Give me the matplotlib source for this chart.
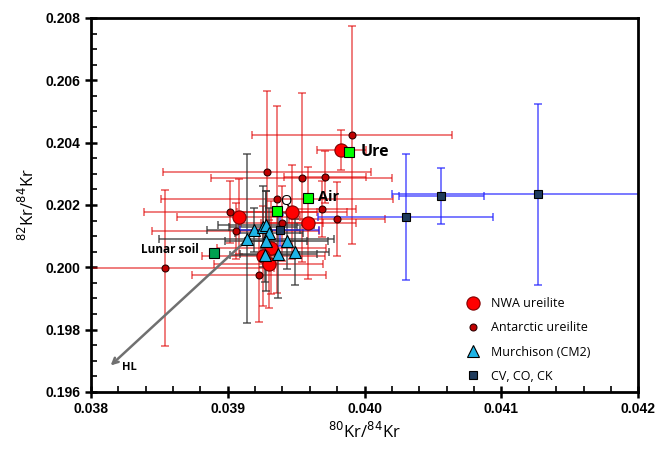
import matplotlib.pyplot as plt
from matplotlib.ticker import MultipleLocator, FormatStrFormatter

# NWA ureilites (80Kr/84Kr, 82Kr/84Kr, errors)
nwa_x = [0.03983, 0.03908, 0.03947, 0.03959, 0.03932, 0.03926, 0.03930]
nwa_y = [0.20376, 0.20162, 0.20177, 0.20143, 0.20063, 0.20036, 0.20011]
nwa_xerr = [0.00018, 0.00045, 0.00040, 0.00035, 0.00040, 0.00045, 0.00040]
nwa_yerr = [0.00064, 0.00120, 0.00150, 0.00180, 0.00150, 0.00160, 0.00140]

# Antarctic ureilites
ant_x = [0.03991, 0.03929, 0.03954, 0.03971, 0.03936, 0.03902, 0.03969,
         0.03980, 0.03940, 0.03906, 0.03854, 0.03923]
ant_y = [0.20425, 0.20305, 0.20288, 0.20290, 0.20219, 0.20177, 0.20187,
         0.20155, 0.20141, 0.20117, 0.19997, 0.19974]
ant_xerr = [0.00073, 0.00076, 0.00066, 0.00030, 0.00085, 0.00063, 0.00025,
            0.00035, 0.00030, 0.00061, 0.00080, 0.00049]
ant_yerr = [0.00350, 0.00260, 0.00270, 0.00083, 0.00300, 0.00100, 0.00090,
            0.00120, 0.00120, 0.00090, 0.00250, 0.00150]

# Murchison (CM2)
mur_x = [0.03919, 0.03926, 0.03928, 0.03930, 0.03914, 0.03928, 0.03943,
         0.03927, 0.03937, 0.03949]
mur_y = [0.20119, 0.20130, 0.20136, 0.20109, 0.20092, 0.20084, 0.20084,
         0.20041, 0.20042, 0.20049]
mur_xerr = [0.00034, 0.00025, 0.00035, 0.00025, 0.00064, 0.00030, 0.00030,
            0.00025, 0.00028, 0.00025]
mur_yerr = [0.00070, 0.00130, 0.00110, 0.00080, 0.00270, 0.00160, 0.00090,
            0.00088, 0.00140, 0.00106]

# CV, CO, CK
cv_x = [0.04127, 0.04056, 0.04030, 0.03938]
cv_y = [0.20234, 0.20228, 0.20161, 0.20119]
cv_xerr = [0.00107, 0.00031, 0.00064, 0.00029]
cv_yerr = [0.00290, 0.00090, 0.00203, 0.00050]

# reference compositions
ref_names = ['Ure', 'Air', 'Q', 'Lunar soil']
ref_x = [0.03989, 0.03959, 0.03936, 0.03890]
ref_y = [0.20370, 0.20221, 0.20181, 0.20045]
ref_colors = ['#00FF00', '#00FF00', '#00FF00', '#00A050']

fig, ax = plt.subplots(figsize=(6.58, 4.49), dpi=100)
fig.subplots_adjust(left=0.138, right=0.970, top=0.960, bottom=0.127)

eb = dict(fmt='none', capsize=3, elinewidth=1.2, capthick=1.2)
ax.errorbar(ant_x, ant_y, xerr=ant_xerr, yerr=ant_yerr, ecolor='#E00000', alpha=0.6, zorder=2, **eb)
ax.errorbar(nwa_x, nwa_y, xerr=nwa_xerr, yerr=nwa_yerr, ecolor='#E00000', alpha=0.6, zorder=2, **eb)
ax.errorbar(mur_x, mur_y, xerr=mur_xerr, yerr=mur_yerr, ecolor='#333333', alpha=0.75, zorder=2, **eb)
ax.errorbar(cv_x, cv_y, xerr=cv_xerr, yerr=cv_yerr, ecolor='#2020FF', alpha=0.7, zorder=2, **eb)

# HL arrow
ax.annotate('', xy=(0.03813, 0.19679), xytext=(0.03914, 0.20088),
            arrowprops=dict(arrowstyle='->', color='#707070', lw=1.8), zorder=3)
ax.text(0.03823, 0.19677, 'HL', fontsize=8, fontweight='bold', va='center', family='Open Sans')

ax.plot(nwa_x, nwa_y, 'o', ms=9.5, mfc='#FF0000', mec='#800000', mew=0.8, ls='none',
        zorder=4, label='NWA ureilite')
ax.plot(ant_x, ant_y, 'o', ms=5, mfc='#C00000', mec='#300000', mew=0.8, ls='none',
        zorder=5, label='Antarctic ureilite')
ax.plot(mur_x, mur_y, '^', ms=8, mfc='#1EB4E6', mec='black', mew=0.8, ls='none',
        zorder=5, label='Murchison (CM2)')
ax.plot(cv_x, cv_y, 's', ms=5.5, mfc='#1F3B5C', mec='black', mew=0.8, ls='none',
        zorder=5, label='CV, CO, CK')

for name, x, y, c in zip(ref_names, ref_x, ref_y, ref_colors):
    ax.plot(x, y, 's', ms=7, mfc=c, mec='black', mew=0.8, zorder=6)

ax.text(0.03997, 0.20370, 'Ure', fontsize=11.5, fontweight='bold', va='center', family='Open Sans')
ax.text(0.03966, 0.20226, 'Air', fontsize=10.5, fontweight='bold', va='center', family='Open Sans')
ax.text(0.03938, 0.20213, 'Q', fontsize=10.5, va='center', family='Open Sans')
ax.text(0.03837, 0.20056, 'Lunar soil', fontsize=8.5, fontweight='bold', va='center', family='Open Sans')

ax.set_xlim(0.038, 0.042)
ax.set_ylim(0.196, 0.208)
ax.xaxis.set_major_locator(MultipleLocator(0.001))
ax.xaxis.set_minor_locator(MultipleLocator(0.0002))
ax.yaxis.set_major_locator(MultipleLocator(0.002))
ax.yaxis.set_minor_locator(MultipleLocator(0.0005))
ax.xaxis.set_major_formatter(FormatStrFormatter('%.3f'))
ax.yaxis.set_major_formatter(FormatStrFormatter('%.3f'))
ax.tick_params(which='major', direction='inout', length=8, width=1.8, labelsize=10)
ax.tick_params(which='minor', direction='in', length=4, width=1.2)
for lab in ax.get_xticklabels() + ax.get_yticklabels():
    lab.set_fontweight('bold')
    lab.set_family('Liberation Sans')
for sp in ax.spines.values():
    sp.set_linewidth(2)

ax.set_xlabel('$^{80}$Kr/$^{84}$Kr', fontsize=12, family='Open Sans', labelpad=4)
ax.set_ylabel('$^{82}$Kr/$^{84}$Kr', fontsize=12, family='Open Sans', labelpad=5)

ax.legend(loc='upper left', bbox_to_anchor=(0.671, 0.267), frameon=False,
          prop={'family': 'Open Sans', 'size': 9}, labelspacing=0.9,
          handlelength=1.5, handletextpad=0.7, borderaxespad=0)

plt.savefig('out.png', dpi=100)
